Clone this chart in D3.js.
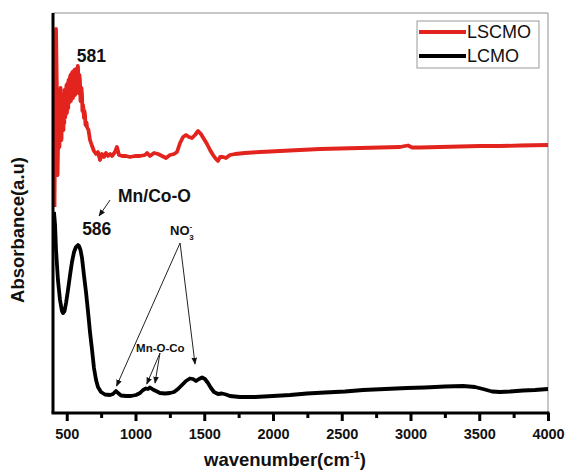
<!DOCTYPE html>
<html>
<head>
<meta charset="utf-8">
<script src="https://cdn.jsdelivr.net/npm/d3@7/dist/d3.min.js"></script>
<style>
  html, body { margin: 0; padding: 0; background: #fff; }
  svg { display: block; }
  text { font-family: "Liberation Sans", Arial, Helvetica, sans-serif; }
</style>
</head>
<body>
<svg id="chart" width="567" height="470"></svg>
<script>
// FTIR spectra, wavenumber (cm^-1) vs absorbance (arbitrary units, offset per sample)
const lscmoWavenumber = [411, 418, 422, 429, 433, 437, 440, 443, 447, 450, 453, 455, 458, 462, 465, 469, 472, 476, 479, 482, 484, 487, 491, 494, 498, 501, 505, 508, 511, 513, 516, 520, 523, 527, 530, 535, 538, 542, 545, 549, 552, 556, 560, 564, 567, 571, 574, 578, 580, 582, 585, 589, 592, 596, 600, 604, 607, 611, 614, 618, 621, 625, 629, 633, 636, 640, 644, 647, 658, 669, 684, 698, 713, 727, 742, 756, 771, 785, 800, 815, 829, 851, 865, 880, 902, 931, 960, 996, 1033, 1069, 1084, 1105, 1135, 1164, 1193, 1222, 1251, 1280, 1302, 1324, 1346, 1367, 1389, 1411, 1433, 1455, 1476, 1498, 1520, 1542, 1564, 1585, 1600, 1615, 1636, 1658, 1687, 1724, 1796, 1905, 2051, 2196, 2342, 2487, 2633, 2778, 2924, 2960, 2982, 3011, 3069, 3215, 3360, 3505, 3651, 3796, 4000];
const lscmoAbsorbance = [2.06, 3.53, 3.84, 3.13, 2.38, 2.70, 2.93, 2.70, 2.66, 3.05, 2.78, 3.25, 2.80, 2.73, 3.10, 3.18, 2.84, 2.83, 3.15, 2.90, 3.23, 2.95, 2.98, 3.20, 3.28, 3.00, 3.08, 3.30, 3.05, 3.33, 3.10, 3.13, 3.35, 3.38, 3.12, 3.18, 3.40, 3.41, 3.15, 3.23, 3.42, 3.43, 3.18, 3.21, 3.44, 3.41, 3.22, 3.28, 3.47, 3.46, 3.20, 3.23, 3.38, 3.33, 3.12, 3.13, 3.25, 3.18, 3.02, 3.08, 3.05, 2.95, 3.02, 2.98, 2.88, 2.91, 2.90, 2.86, 2.83, 2.73, 2.67, 2.62, 2.59, 2.61, 2.53, 2.59, 2.56, 2.60, 2.57, 2.59, 2.57, 2.61, 2.66, 2.58, 2.57, 2.57, 2.56, 2.57, 2.57, 2.58, 2.60, 2.57, 2.60, 2.59, 2.57, 2.55, 2.58, 2.59, 2.61, 2.70, 2.76, 2.78, 2.76, 2.75, 2.78, 2.82, 2.79, 2.74, 2.69, 2.63, 2.58, 2.54, 2.52, 2.56, 2.56, 2.55, 2.58, 2.59, 2.60, 2.61, 2.62, 2.63, 2.64, 2.645, 2.65, 2.655, 2.66, 2.67, 2.675, 2.655, 2.655, 2.66, 2.665, 2.67, 2.67, 2.675, 2.68];

const lcmoWavenumber = [407, 415, 422, 429, 436, 451, 465, 473, 484, 495, 509, 524, 538, 553, 567, 582, 589, 600, 611, 625, 640, 655, 669, 684, 698, 713, 727, 749, 778, 815, 836, 858, 873, 895, 931, 967, 1004, 1033, 1055, 1076, 1091, 1105, 1127, 1149, 1178, 1215, 1251, 1280, 1309, 1338, 1367, 1396, 1418, 1440, 1462, 1484, 1505, 1527, 1549, 1571, 1600, 1629, 1658, 1687, 1760, 1869, 2000, 2124, 2247, 2378, 2524, 2655, 2815, 2975, 3105, 3251, 3382, 3469, 3527, 3593, 3651, 3724, 3818, 3905, 4000];
const lcmoAbsorbance = [2.01, 1.88, 1.63, 1.48, 1.33, 1.13, 1.02, 1.00, 1.02, 1.10, 1.23, 1.38, 1.51, 1.61, 1.66, 1.68, 1.67, 1.63, 1.55, 1.38, 1.21, 1.01, 0.81, 0.63, 0.45, 0.33, 0.26, 0.21, 0.185, 0.18, 0.19, 0.22, 0.20, 0.175, 0.17, 0.17, 0.18, 0.20, 0.23, 0.245, 0.24, 0.255, 0.235, 0.22, 0.20, 0.195, 0.20, 0.21, 0.24, 0.28, 0.32, 0.345, 0.34, 0.32, 0.34, 0.355, 0.34, 0.30, 0.25, 0.21, 0.19, 0.195, 0.185, 0.17, 0.16, 0.16, 0.17, 0.18, 0.195, 0.205, 0.215, 0.23, 0.24, 0.25, 0.255, 0.265, 0.27, 0.26, 0.24, 0.215, 0.21, 0.215, 0.225, 0.23, 0.24];

const seriesNames = ["LSCMO", "LCMO"];
const seriesColors = ["#e3231d", "#000000"];
const majorTicks = [500, 1000, 1500, 2000, 2500, 3000, 3500, 4000];
const minorTicks = [750, 1250, 1750, 2250, 2750, 3250, 3750];

// Peak labels and assignment arrows: [wavenumber, absorbance]
const peakLabels = [
  { text: "581", at: [573, 3.51] },
  { text: "586", at: [612, 1.78] },
  { text: "Mn/Co-O", at: [873, 2.11] }
];
const mnCoArrow = { from: [815, 2.13], to: [735, 1.97] };
const nitrateLabel = { at: [1251, 1.78] };
const nitrateArrows = [
  { from: [1324, 1.70], to: [862, 0.27] },
  { from: [1324, 1.70], to: [1433, 0.49] }
];
const mnOCoLabel = { text: "Mn-O-Co", at: [1004, 0.61] };
const mnOCoArrows = [
  { from: [1178, 0.60], to: [1082, 0.29] },
  { from: [1178, 0.60], to: [1142, 0.30] }
];

const svg = d3.select("#chart");
const margin = { left: 53, right: 19, top: 13, bottom: 57 };
const W = 567, H = 470;

const x = d3.scaleLinear().domain([400, 4000]).range([margin.left, W - margin.right]);
const y = d3.scaleLinear().domain([0, 4]).range([H - margin.bottom, margin.top]);

// Frame: light top/right border
svg.append("line").attr("x1", x(400)).attr("x2", x(4000)).attr("y1", y(4)).attr("y2", y(4))
  .attr("stroke", "#b5b5b5").attr("stroke-width", 1.5);
svg.append("line").attr("x1", x(4000)).attr("x2", x(4000)).attr("y1", y(4)).attr("y2", y(0))
  .attr("stroke", "#b5b5b5").attr("stroke-width", 1.5);

// Arrow marker
const defs = svg.append("defs");
defs.append("marker")
  .attr("id", "arrowHead")
  .attr("viewBox", "0 0 10 10")
  .attr("refX", 9).attr("refY", 5)
  .attr("markerWidth", 7).attr("markerHeight", 7)
  .attr("markerUnits", "userSpaceOnUse")
  .attr("orient", "auto")
  .append("path").attr("d", "M0,1 L10,5 L0,9 Z").attr("fill", "#111");

// Spectra
const line = d3.line().x(d => x(d[0])).y(d => y(d[1])).curve(d3.curveLinear);
const lscmo = d3.zip(lscmoWavenumber, lscmoAbsorbance);
const lcmo = d3.zip(lcmoWavenumber, lcmoAbsorbance);

svg.append("path").datum(lcmo).attr("d", line)
  .attr("fill", "none").attr("stroke", seriesColors[1]).attr("stroke-width", 3.8)
  .attr("stroke-linejoin", "round");
svg.append("path").datum(lscmo).attr("d", line)
  .attr("fill", "none").attr("stroke", seriesColors[0]).attr("stroke-width", 3.8)
  .attr("stroke-linejoin", "round");

// Axes
const xAxis = svg.append("g").attr("transform", `translate(0,${y(0)})`);
xAxis.call(d3.axisBottom(x).tickValues(minorTicks).tickSize(5).tickFormat(""))
  .call(g => g.select(".domain").remove());
xAxis.selectAll(".tick line").attr("stroke-width", 3);

const xMajor = svg.append("g").attr("transform", `translate(0,${y(0)})`);
xMajor.call(d3.axisBottom(x).tickValues(majorTicks).tickSize(8).tickPadding(8).tickFormat(d3.format("d")))
  .call(g => g.select(".domain").remove());
xMajor.selectAll(".tick line").attr("stroke-width", 3);
xMajor.selectAll(".tick text")
  .attr("font-size", 14.5).attr("font-weight", "bold").attr("fill", "#111")
  .attr("font-family", "'Liberation Sans', Arial, sans-serif");

svg.append("line").attr("x1", x(400) - 1.5).attr("x2", x(4000) + 1.5).attr("y1", y(0)).attr("y2", y(0))
  .attr("stroke", "#000").attr("stroke-width", 3);
svg.append("line").attr("x1", x(400)).attr("x2", x(400)).attr("y1", y(4)).attr("y2", y(0))
  .attr("stroke", "#000").attr("stroke-width", 3);

// Axis titles
const xTitle = svg.append("text")
  .attr("x", 285).attr("y", 466)
  .attr("text-anchor", "middle").attr("font-size", 18.5).attr("font-weight", "bold").attr("fill", "#111");
xTitle.append("tspan").text("wavenumber(cm");
xTitle.append("tspan").attr("dy", -7).attr("font-size", 11).text("-1");
xTitle.append("tspan").attr("dy", 7).text(")");

svg.append("text")
  .attr("transform", "translate(24,230) rotate(-90)")
  .attr("text-anchor", "middle").attr("font-size", 18.5).attr("font-weight", "bold").attr("fill", "#111")
  .text("Absorbance(a.u)");

// Annotations
const ann = svg.append("g").attr("fill", "#111").attr("font-weight", "bold");
peakLabels.forEach(p => {
  ann.append("text").attr("x", x(p.at[0])).attr("y", y(p.at[1]))
    .attr("font-size", 17.5).text(p.text);
});

const arrow = a => svg.append("line")
  .attr("x1", x(a.from[0])).attr("y1", y(a.from[1]))
  .attr("x2", x(a.to[0])).attr("y2", y(a.to[1]))
  .attr("stroke", "#222").attr("stroke-width", 1)
  .attr("marker-end", "url(#arrowHead)");

arrow(mnCoArrow);
nitrateArrows.forEach(arrow);
mnOCoArrows.forEach(arrow);

const no3 = ann.append("text").attr("x", x(nitrateLabel.at[0])).attr("y", y(nitrateLabel.at[1]))
  .attr("font-size", 13);
no3.append("tspan").text("NO");
no3.append("tspan").attr("dy", -6).attr("font-size", 8).text("-");
no3.append("tspan").attr("dx", -3).attr("dy", 11).attr("font-size", 8).text("3");

ann.append("text").attr("x", x(mnOCoLabel.at[0])).attr("y", y(mnOCoLabel.at[1]))
  .attr("font-size", 11.5).text(mnOCoLabel.text);

// Legend
const legend = svg.append("g");
legend.append("rect").attr("x", 417).attr("y", 21).attr("width", 122).attr("height", 47)
  .attr("fill", "#fff").attr("stroke", "#9a9a9a").attr("stroke-width", 1);
seriesNames.forEach((name, i) => {
  const ly = 32 + i * 24;
  legend.append("line").attr("x1", 419).attr("x2", 466).attr("y1", ly).attr("y2", ly)
    .attr("stroke", seriesColors[i]).attr("stroke-width", 4);
  legend.append("text").attr("x", 467).attr("y", ly + 6)
    .attr("font-size", 18).attr("fill", "#111").text(name);
});
</script>
</body>
</html>
